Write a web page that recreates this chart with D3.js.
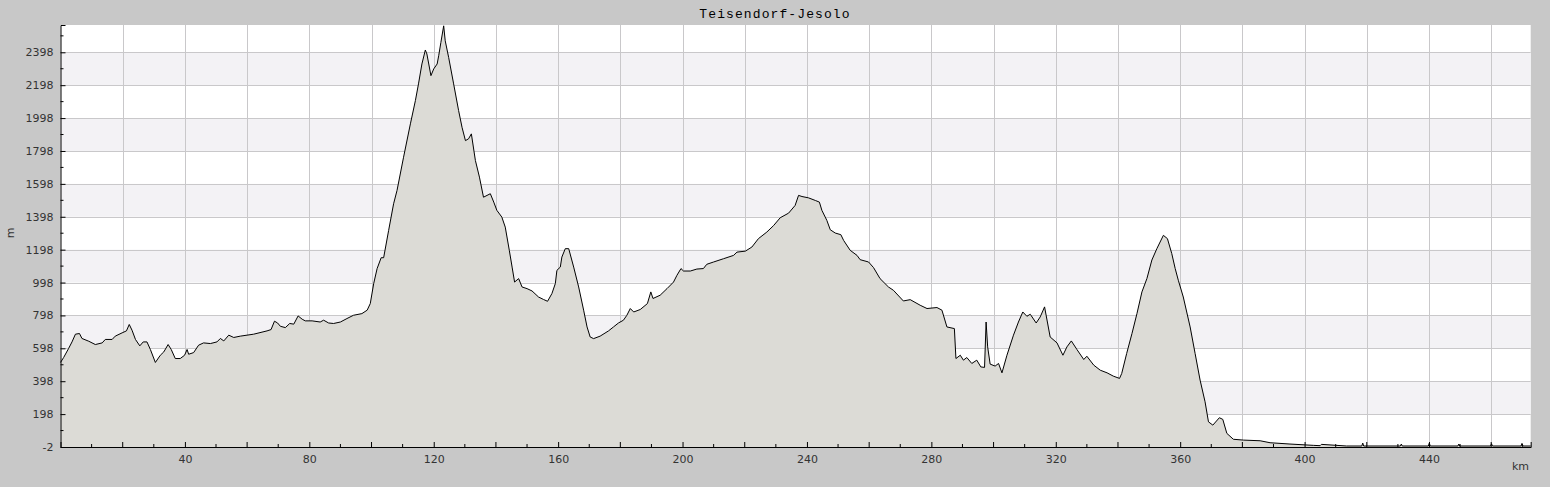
<!DOCTYPE html>
<html lang="en">
<head>
<meta charset="UTF-8">
<title>Teisendorf-Jesolo</title>
<script src="https://cdn.jsdelivr.net/npm/d3@7"></script>
<style>
  body { margin: 0; background: #c8c8c8; }
  svg { display: block; }
</style>
</head>
<body>
<svg width="1550" height="487"></svg>
<script>
// distance along the route (km) and elevation (m)
var km = [0.0, 1.0, 2.6, 3.7, 4.8, 6.1, 6.9, 9.1, 11.2, 13.4, 14.4, 16.6, 17.6, 19.8, 21.2, 22.1, 23.0, 24.1, 25.5, 26.6,
  27.8, 28.9, 30.5, 32.1, 33.2, 34.6, 35.6, 36.9, 38.5, 39.9, 40.7, 41.2, 42.8, 44.4, 46.0, 48.2, 50.3, 51.4, 52.5, 54.1,
  55.7, 57.8, 62.1, 66.4, 67.7, 68.8, 69.8, 70.7, 72.3, 73.7, 75.0, 76.4, 77.7, 78.7, 80.9, 83.5, 84.6, 86.2, 87.8, 90.0,
  92.1, 94.2, 96.9, 98.6, 99.6, 100.7, 101.8, 103.1, 103.9, 105.5, 107.1, 108.2, 110.3, 112.5, 114.1, 115.1, 116.2, 117.3, 117.8, 119.1,
  120.0, 121.1, 121.6, 122.3, 123.2, 123.7, 124.8, 126.4, 128.0, 129.1, 130.2, 131.2, 132.1, 133.4, 134.7, 136.0, 138.2, 139.3, 140.3, 141.9,
  143.0, 144.3, 145.2, 146.0, 147.3, 148.4, 150.0, 151.6, 153.7, 155.3, 156.6, 158.0, 159.1, 159.6, 160.7, 161.2, 162.3, 163.4, 165.0, 166.6,
  168.2, 169.3, 170.3, 171.4, 173.5, 176.2, 177.8, 179.4, 181.0, 182.1, 183.2, 184.3, 186.4, 188.7, 189.8, 190.5, 192.8, 195.0, 197.1, 198.2,
  199.5, 200.3, 202.5, 204.6, 206.7, 207.8, 210.0, 213.2, 216.4, 217.5, 220.2, 222.3, 224.4, 227.1, 229.3, 231.4, 234.1, 236.2, 237.3, 238.4,
  240.5, 242.7, 244.0, 244.8, 246.4, 247.5, 249.1, 250.9, 251.8, 253.9, 256.1, 257.1, 259.8, 261.4, 263.5, 266.2, 267.8, 271.0, 273.2, 276.4,
  278.6, 281.8, 283.4, 285.0, 287.4, 287.9, 289.3, 290.3, 291.4, 293.0, 294.6, 295.9, 297.1, 297.6, 298.1, 298.9, 300.5, 301.6, 302.7, 304.3,
  306.4, 308.0, 309.4, 310.7, 311.8, 313.7, 315.0, 316.4, 318.2, 320.4, 322.3, 323.6, 325.0, 326.8, 329.0, 330.0, 332.2, 334.3, 336.5, 338.5,
  340.5, 341.2, 342.8, 344.5, 346.1, 347.7, 349.3, 350.9, 352.5, 354.6, 355.9, 357.3, 358.4, 359.4, 361.0, 363.2, 364.8, 366.4, 368.0, 369.1,
  370.5, 372.6, 373.7, 375.0, 377.1, 380.3, 385.7, 388.9, 395.3, 402.8, 405.0, 405.4, 413.5, 418.4, 418.7, 419.0, 430.8, 431.1, 431.4, 439.8,
  440.1, 440.4, 449.3, 449.6, 449.9, 459.8, 460.1, 460.4, 469.6, 469.9, 470.2, 472.7];
var elev = [512, 542, 597, 637, 684, 688, 658, 641, 621, 631, 652, 652, 672, 692, 704, 743, 708, 652, 613, 637,
  637, 591, 512, 556, 576, 621, 591, 536, 536, 556, 591, 562, 572, 617, 631, 627, 637, 658, 643, 678,
  664, 672, 684, 704, 712, 763, 752, 732, 724, 749, 745, 795, 775, 765, 765, 758, 769, 752, 749, 758,
  779, 799, 809, 830, 870, 992, 1083, 1149, 1149, 1315, 1477, 1558, 1760, 1963, 2104, 2206, 2327, 2412, 2388, 2256,
  2297, 2327, 2377, 2458, 2559, 2468, 2367, 2206, 2044, 1942, 1861, 1872, 1902, 1740, 1639, 1517, 1538, 1487, 1437, 1396,
  1335, 1194, 1092, 1001, 1022, 971, 961, 947, 910, 895, 884, 931, 992, 1072, 1092, 1153, 1204, 1204, 1092, 971,
  830, 728, 667, 657, 672, 704, 728, 752, 769, 799, 840, 819, 834, 870, 941, 901, 921, 961, 1001, 1042,
  1083, 1068, 1068, 1080, 1083, 1109, 1123, 1143, 1163, 1183, 1189, 1214, 1265, 1305, 1345, 1392, 1420, 1467, 1528, 1521,
  1513, 1497, 1487, 1437, 1376, 1319, 1299, 1289, 1254, 1194, 1163, 1137, 1123, 1089, 1022, 971, 951, 886, 894, 860,
  840, 846, 830, 728, 718, 536, 556, 526, 542, 506, 526, 485, 482, 758, 607, 502, 490, 506, 449, 556,
  678, 758, 819, 793, 805, 752, 789, 850, 667, 631, 556, 607, 643, 591, 530, 550, 496, 465, 449, 429,
  415, 445, 567, 688, 809, 941, 1022, 1135, 1204, 1285, 1265, 1174, 1083, 1012, 910, 728, 567, 405, 273, 151,
  131, 176, 166, 81, 45, 40, 36, 24, 16, 8, 6, 14, 4, 4, 22, 4, 4, 16, 4, 4,
  22, 4, 4, 16, 4, 4, 18, 4, 4, 20, 4, 4];

var yTicks = [-2, 198, 398, 598, 798, 998, 1198, 1398, 1598, 1798, 1998, 2198, 2398];
var xLabels = [40, 80, 120, 160, 200, 240, 280, 320, 360, 400, 440];

var data = km.map(function (d, i) { return { km: d, m: elev[i] }; });

var svg = d3.select('svg');
var plotL = 60.5, plotR = 1530.7, plotT = 25, plotB = 447;

var x = d3.scaleLinear().domain([0, 472.7]).range([plotL, plotR]);
var y = d3.scaleLinear().domain([-2, 2564]).range([plotB, plotT]);

// background of plot
svg.append('rect').attr('x', plotL).attr('y', plotT)
  .attr('width', plotR - plotL).attr('height', plotB - plotT).attr('fill', '#ffffff');

// alternating bands
for (var i = 0; i < yTicks.length - 1; i++) {
  if (i % 2 === 1) {
    svg.append('rect')
      .attr('x', plotL).attr('width', plotR - plotL)
      .attr('y', y(yTicks[i + 1])).attr('height', y(yTicks[i]) - y(yTicks[i + 1]))
      .attr('fill', '#f3f2f5');
  }
}

// grid
var grid = svg.append('g').attr('stroke', '#c9c8ca').attr('stroke-width', 1);
d3.range(20, 472, 20).forEach(function (v) {
  grid.append('line').attr('x1', Math.round(x(v)) + 0.5).attr('x2', Math.round(x(v)) + 0.5)
    .attr('y1', plotT).attr('y2', plotB);
});
yTicks.slice(1).forEach(function (v) {
  grid.append('line').attr('y1', Math.round(y(v)) + 0.5).attr('y2', Math.round(y(v)) + 0.5)
    .attr('x1', plotL).attr('x2', plotR);
});

// profile
var area = d3.area().x(function (d) { return x(d.km); }).y0(plotB).y1(function (d) { return y(d.m); });
var line = d3.line().x(function (d) { return x(d.km); }).y(function (d) { return y(d.m); });
svg.append('path').datum(data).attr('d', area).attr('fill', '#dcdbd6');
svg.append('path').datum(data).attr('d', line).attr('fill', 'none')
  .attr('stroke', '#000').attr('stroke-width', 1).attr('stroke-linejoin', 'round');

// axes (ticks pointing inward)
var yAxis = d3.axisLeft(y).tickValues(yTicks).tickSize(-5).tickPadding(7).tickFormat(function (d) { return String(d); });
var gy = svg.append('g').attr('transform', 'translate(' + plotL + ',0)').call(yAxis);
var yMinor = d3.range(98, 2564, 200);
gy.selectAll('.minor').data(yMinor).enter().append('line').attr('class', 'minor')
  .attr('x1', 0).attr('x2', 3).attr('y1', function (d) { return y(d); }).attr('y2', function (d) { return y(d); })
  .attr('stroke', '#000');

var xAxis = d3.axisBottom(x).tickValues(xLabels).tickSize(-5).tickPadding(8);
var gx = svg.append('g').attr('transform', 'translate(0,' + plotB + ')').call(xAxis);
var xMinor = d3.range(10, 472, 10).filter(function (d) { return d % 40 !== 0; });
gx.selectAll('.minor').data(xMinor).enter().append('line').attr('class', 'minor')
  .attr('y1', 0).attr('y2', function (d) { return d % 20 === 0 ? -5 : -3; })
  .attr('x1', function (d) { return x(d); }).attr('x2', function (d) { return x(d); })
  .attr('stroke', '#000');

[gx, gy].forEach(function (g) {
  g.select('.domain').attr('stroke', '#000');
  g.selectAll('.tick line').attr('stroke', '#000');
  g.selectAll('text').attr('font-family', 'DejaVu Sans, sans-serif').attr('font-size', 11).attr('fill', '#333');
});

// axis titles
svg.append('text').attr('x', 1529).attr('y', 470).attr('text-anchor', 'end')
  .attr('font-family', 'DejaVu Sans, sans-serif').attr('font-size', 11).attr('fill', '#333').text('km');
svg.append('text').attr('transform', 'translate(14,233) rotate(-90)').attr('text-anchor', 'middle')
  .attr('font-family', 'DejaVu Sans, sans-serif').attr('font-size', 11).attr('fill', '#333').text('m');

// title
svg.append('text').attr('x', 775).attr('y', 18).attr('text-anchor', 'middle')
  .attr('font-family', 'Liberation Mono, monospace').attr('font-size', 13).attr('letter-spacing', 1.1)
  .attr('fill', '#000').text('Teisendorf-Jesolo');
</script>
</body>
</html>
